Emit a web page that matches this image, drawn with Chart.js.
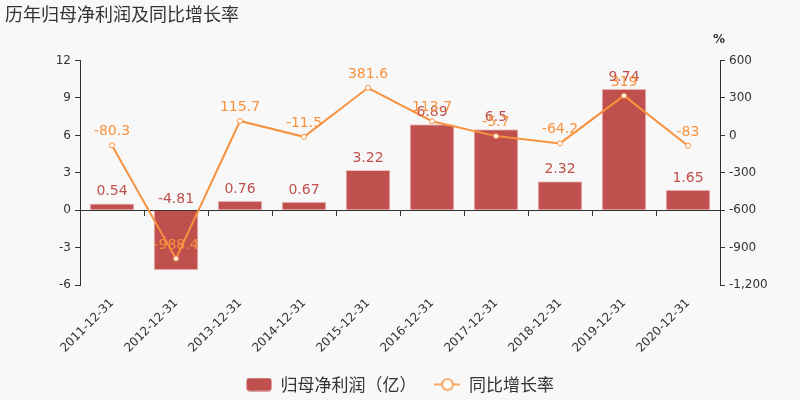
<!DOCTYPE html>
<html>
<head>
<meta charset="utf-8">
<script src="https://cdn.jsdelivr.net/npm/chart.js@4/dist/chart.umd.min.js"></script>
<style>
  html, body { margin: 0; padding: 0; background: #f8f8f8; }
  canvas { display: block; }
</style>
</head>
<body>
<canvas id="grafico" width="800" height="400"></canvas>
<script>
// Datos del gráfico
const titulo = '历年归母净利润及同比增长率';
const fechas = ['2011-12-31', '2012-12-31', '2013-12-31', '2014-12-31', '2015-12-31',
                '2016-12-31', '2017-12-31', '2018-12-31', '2019-12-31', '2020-12-31'];
const beneficio = [0.54, -4.81, 0.76, 0.67, 3.22, 6.89, 6.5, 2.32, 9.74, 1.65];
const crecimiento = [-80.3, -988.4, 115.7, -11.5, 381.6, 113.7, -5.7, -64.2, 319, -83];
const nombreBarras = '归母净利润（亿）';
const nombreLinea = '同比增长率';
const unidadDerecha = '%';

const rojo = '#c0504d';
const naranja = '#f7923e';
const gris = '#333333';
const fuente = '"DejaVu Sans", sans-serif';
const fuenteCJK = '"Noto Sans CJK SC", sans-serif';

// Iconos de la leyenda
function iconoBarra() {
    const c = document.createElement('canvas');
    c.width = 26; c.height = 14;
    const g = c.getContext('2d');
    g.fillStyle = rojo;
    g.beginPath();
    g.roundRect(0.5, 0.5, 25, 13, 3);
    g.fill();
    return c;
}

function iconoLinea() {
    const c = document.createElement('canvas');
    c.width = 26; c.height = 14;
    const g = c.getContext('2d');
    g.strokeStyle = naranja;
    g.lineWidth = 1.5;
    g.beginPath();
    g.moveTo(0, 7); g.lineTo(26, 7);
    g.stroke();
    g.fillStyle = '#ffffff';
    g.beginPath();
    g.arc(13, 7, 5.5, 0, Math.PI * 2);
    g.fill();
    g.stroke();
    return c;
}

// Etiquetas de valores y la unidad del eje derecho
const etiquetas = {
    id: 'etiquetas',
    afterDatasetsDraw(chart) {
        const ctx = chart.ctx;
        ctx.save();
        ctx.font = '14px ' + fuente;
        ctx.textAlign = 'center';
        ctx.textBaseline = 'alphabetic';

        ctx.fillStyle = rojo;
        chart.getDatasetMeta(0).data.forEach((barra, i) => {
            const arriba = Math.min(barra.y, barra.base);
            ctx.fillText(String(beneficio[i]), barra.x, arriba - 8);
        });

        ctx.fillStyle = naranja;
        chart.getDatasetMeta(1).data.forEach((punto, i) => {
            ctx.fillText(String(crecimiento[i]), punto.x, punto.y - 10);
        });

        ctx.fillStyle = gris;
        ctx.font = 'bold 12px ' + fuente;
        ctx.fillText(unidadDerecha, chart.chartArea.right - 1, 43);
        ctx.restore();
    }
};

const ctx = document.getElementById('grafico').getContext('2d');

new Chart(ctx, {
    type: 'bar',
    data: {
        labels: fechas,
        datasets: [{
            label: nombreBarras,
            data: beneficio,
            yAxisID: 'y',
            xAxisID: 'x',
            backgroundColor: rojo,
            borderColor: 'rgba(240, 190, 190, 0.9)',
            borderWidth: 1,
            barPercentage: 0.7,
            categoryPercentage: 1,
            order: 2
        }, {
            type: 'line',
            label: nombreLinea,
            data: crecimiento,
            yAxisID: 'y1',
            xAxisID: 'x',
            borderColor: naranja,
            borderWidth: 2,
            pointRadius: 2.5,
            pointBorderWidth: 1,
            pointBackgroundColor: '#ffffff',
            pointBorderColor: naranja,
            tension: 0,
            order: 1
        }]
    },
    options: {
        responsive: false,
        animation: false,
        layout: { padding: { left: 5, right: 5, top: 0, bottom: -3 } },
        plugins: {
            title: {
                display: true,
                text: titulo,
                align: 'start',
                color: gris,
                font: { family: fuenteCJK, size: 18, weight: 'normal' },
                padding: { top: 3, bottom: 36 }
            },
            legend: {
                position: 'bottom',
                labels: {
                    usePointStyle: true,
                    pointStyleWidth: 26,
                    padding: 18,
                    color: gris,
                    font: { family: fuenteCJK, size: 17 },
                    generateLabels() {
                        return [
                            { text: nombreBarras, pointStyle: iconoBarra(), fontColor: gris, datasetIndex: 0, lineWidth: 0 },
                            { text: nombreLinea, pointStyle: iconoLinea(), fontColor: gris, datasetIndex: 1, lineWidth: 0 }
                        ];
                    }
                }
            },
            tooltip: { enabled: false }
        },
        scales: {
            x: {
                position: 'bottom',
                grid: { display: false },
                border: { display: false },
                ticks: {
                    color: gris,
                    font: { family: fuente, size: 12 },
                    minRotation: 45,
                    maxRotation: 45,
                    autoSkip: false
                },
                afterFit(scale) { scale.height = 73; }
            },
            xCero: {
                type: 'category',
                position: { y: 0 },
                offset: true,
                grid: { offset: true, drawOnChartArea: false, tickLength: 5, color: gris },
                border: { color: gris },
                ticks: { display: false }
            },
            y: {
                position: 'left',
                min: -6,
                max: 12,
                ticks: { stepSize: 3, color: gris, font: { family: fuente, size: 12 }, padding: 4 },
                grid: { drawOnChartArea: false, tickLength: 5, color: gris },
                border: { color: gris },
                afterFit(scale) { scale.width = 75; }
            },
            y1: {
                position: 'right',
                min: -1200,
                max: 600,
                ticks: { stepSize: 300, color: gris, font: { family: fuente, size: 12 }, padding: 4 },
                grid: { drawOnChartArea: false, tickLength: 5, color: gris },
                border: { color: gris },
                afterFit(scale) { scale.width = 75; }
            }
        }
    },
    plugins: [etiquetas]
});
</script>
</body>
</html>
